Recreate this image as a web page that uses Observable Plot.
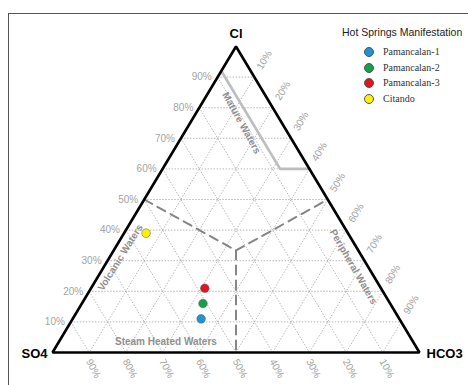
<!DOCTYPE html>
<html>
<head>
<meta charset="utf-8">
<script src="https://cdn.jsdelivr.net/npm/d3@7"></script>
<script src="https://cdn.jsdelivr.net/npm/@observablehq/plot@0.6"></script>
<style>
  html, body { margin: 0; padding: 0; background: #fff; }
  #wrap { position: relative; width: 468px; height: 385px; overflow: hidden; }
  #frame { position: absolute; left: 8px; top: 13px; width: 470px; height: 380px;
           border-top: 1px solid #555; border-left: 1px solid #555; }
  #chart { position: absolute; left: 0; top: 0; }
  #legend { position: absolute; left: 342px; top: 26px; font-family: "Liberation Sans", Arial, sans-serif; }
  #legend .title { font-size: 10.5px; line-height: 13px; color: #222; white-space: nowrap; margin-bottom: 7px; }
  #legend .item { position: relative; height: 15.5px; margin-left: 22px; font-family: "Liberation Serif", "Times New Roman", serif; font-size: 10px; line-height: 12px; color: #333; white-space: nowrap; }
  #legend .sw { position: absolute; left: 0; top: 1px; width: 8px; height: 8px; border-radius: 50%; border: 0.6px solid #555; }
  #legend .lab { position: absolute; left: 19px; top: 0; }
</style>
</head>
<body>
<div id="wrap">
  <div id="frame"></div>
  <div id="chart"></div>
  <div id="legend"></div>
</div>
<script>
// Giggenbach Cl–SO4–HCO3 ternary diagram

const vertexNames = ["Cl", "SO4", "HCO3"];

// sample compositions (% of Cl + SO4 + HCO3)
const samples = ["Pamancalan-1", "Pamancalan-2", "Pamancalan-3", "Citando"];
const clPct   = [11, 16, 21, 39];
const so4Pct  = [54, 51, 48, 55];
const hco3Pct = [35, 33, 31, 6];
const sampleColors = ["#1f93d6", "#13a04a", "#e2141e", "#fff000"];

// grid / tick percentages
const tickPct = [10, 20, 30, 40, 50, 60, 70, 80, 90];

// field boundaries, each vertex given as [Cl, SO4, HCO3] %
const matureLine = [[92, 8, 0], [60, 8, 32], [60, 0, 40]];
const dashedLeft = [[50, 50, 0], [100 / 3, 100 / 3, 100 / 3], [50, 0, 50]];
const dashedDown = [[100 / 3, 100 / 3, 100 / 3], [0, 50, 50]];

// field names, with the composition at the label's centre and its rotation
const fieldNames = ["Mature Waters", "Volcanic Waters", "Peripheral Waters", "Steam Heated Waters"];
const fieldPos   = [[75, 11, 14], [31, 66, 3], [28, 4, 68], [3.4, 67.4, 29.2]];
const fieldAngle = [61, -58, 60, 0];

// ternary -> cartesian (unit triangle, Cl at top, SO4 bottom-left, HCO3 bottom-right)
function tern(cl, so4, h) {
  const s = cl + so4 + h;
  return {x: (h + cl / 2) / s, y: cl / s};
}
const pt = (a) => tern(a[0], a[1], a[2]);

const triangle = [tern(100, 0, 0), tern(0, 100, 0), tern(0, 0, 100)];

// grid links for the three components
const grid = [];
for (const p of tickPct) {
  const q = 100 - p;
  grid.push({a: tern(p, q, 0), b: tern(p, 0, q)});   // constant Cl
  grid.push({a: tern(q, p, 0), b: tern(0, p, q)});   // constant SO4
  grid.push({a: tern(q, 0, p), b: tern(0, q, p)});   // constant HCO3
}

const points = samples.map((name, i) => ({name, color: sampleColors[i], ...tern(clPct[i], so4Pct[i], hco3Pct[i])}));
const leftTicks   = tickPct.map(p => ({label: p + "%", ...tern(p, 100 - p, 0)}));
const rightTicks  = tickPct.map(p => ({label: p + "%", ...tern(100 - p, 0, p)}));
const bottomTicks = tickPct.map(p => ({label: p + "%", ...tern(0, p, 100 - p)}));
const fields = fieldNames.map((name, i) => ({name, rotate: fieldAngle[i], ...pt(fieldPos[i])}));
const vertices = vertexNames.map((name, i) => ({name, ...triangle[i]}));

const sans = "Liberation Sans, Arial, sans-serif";
const tickColor = "#a3a3a3";
const fieldColor = "#8f8f8f";

const chart = Plot.plot({
  width: 468,
  height: 385,
  marginLeft: 52,
  marginRight: 49,
  marginTop: 46,
  marginBottom: 33,
  x: {domain: [0, 1], axis: null},
  y: {domain: [0, 1], axis: null},
  style: {background: "transparent", overflow: "visible", fontFamily: sans},
  marks: [
    Plot.link(grid, {x1: d => d.a.x, y1: d => d.a.y, x2: d => d.b.x, y2: d => d.b.y,
      stroke: "#9a9a9a", strokeWidth: 0.7, strokeDasharray: "1.5,1.5"}),
    Plot.line(matureLine.map(pt), {x: "x", y: "y", stroke: "#bdbdbd", strokeWidth: 2.6}),
    Plot.line(dashedLeft.map(pt), {x: "x", y: "y", stroke: "#858585", strokeWidth: 2, strokeDasharray: "9,6"}),
    Plot.line(dashedDown.map(pt), {x: "x", y: "y", stroke: "#858585", strokeWidth: 2, strokeDasharray: "9,6"}),
    Plot.line(triangle, {x: "x", y: "y", curve: "linear-closed", stroke: "#000", strokeWidth: 2.6, strokeLinejoin: "miter"}),
    Plot.text(leftTicks, {x: "x", y: "y", text: "label", dx: -6, textAnchor: "end", fill: tickColor, fontSize: 10}),
    Plot.text(rightTicks, {x: "x", y: "y", text: "label", dx: 10, dy: -17, rotate: -59, fill: tickColor, fontSize: 10}),
    Plot.text(bottomTicks, {x: "x", y: "y", text: "label", dx: 4, dy: 16, rotate: 62, fill: tickColor, fontSize: 10}),
    Plot.text(fields, {x: "x", y: "y", text: "name", rotate: "rotate", fill: fieldColor, fontSize: 10, fontWeight: "bold"}),
    Plot.text(vertices.slice(0, 1), {x: "x", y: "y", text: "name", dy: -13, fill: "#000", fontSize: 13, fontWeight: "bold"}),
    Plot.text(vertices.slice(1, 2), {x: "x", y: "y", text: "name", dx: -5, dy: 1, textAnchor: "end", fill: "#000", fontSize: 13, fontWeight: "bold"}),
    Plot.text(vertices.slice(2, 3), {x: "x", y: "y", text: "name", dx: 7, dy: 1, textAnchor: "start", fill: "#000", fontSize: 13, fontWeight: "bold"}),
    Plot.dot(points, {x: "x", y: "y", r: 4.3, fill: "color", stroke: "#555", strokeWidth: 0.5})
  ]
});
document.getElementById("chart").appendChild(chart);

// legend
const legend = document.getElementById("legend");
legend.innerHTML = `<div class="title">Hot Springs Manifestation</div>` +
  samples.map((s, i) => `<div class="item"><span class="sw" style="background:${sampleColors[i]}"></span><span class="lab">${s}</span></div>`).join("");
</script>
</body>
</html>
